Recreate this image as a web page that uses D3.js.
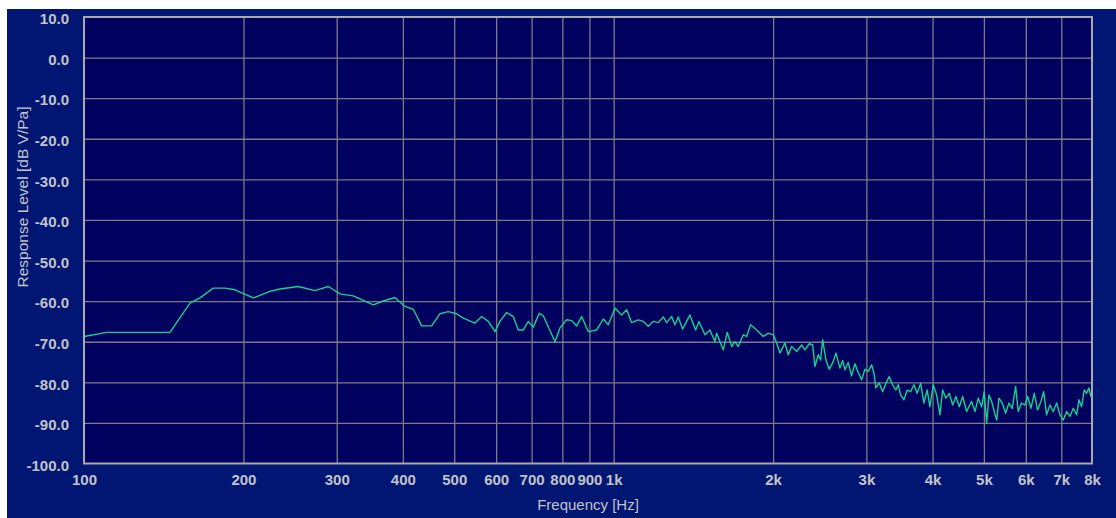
<!DOCTYPE html>
<html>
<head>
<meta charset="utf-8">
<script src="https://cdn.jsdelivr.net/npm/d3@7"></script>
<style>
  html, body { margin: 0; padding: 0; background: #ffffff; }
  svg { display: block; }
</style>
</head>
<body>
<svg id="chart" width="1116" height="518"></svg>
<script>
// Measured response: frequency (Hz) and level (dB V/Pa)
const freqHz = [
  100, 110.4, 145.3, 158.5, 165.6, 175.4, 184.6, 192.8, 208.8, 224.4,
  234.4, 253.8, 272.9, 289.2, 304.3, 322.4, 351.8, 364.8, 386.5, 403.6,
  418.5, 434.0, 453.3, 470.0, 487.3, 505.2, 520.0, 547.2, 563.4, 579.8,
  596.9, 610.0, 628.1, 646.4, 660.6, 675.1, 690.0, 705.1, 723.7, 736.4,
  774.8, 791.7, 815.2, 833.1, 851.4, 870.1, 895.4, 928.8, 955.9, 976.8,
  1005.8, 1035.4, 1058.0, 1081.4, 1112.8, 1137.4, 1162.4, 1188.0, 1214.0, 1240.7,
  1259.0, 1286.6, 1305.2, 1324.0, 1349.7, 1393.0, 1428.1, 1448.7, 1487.2, 1519.7,
  1553.0, 1564.5, 1610.1, 1638.5, 1670.2, 1694.2, 1718.6, 1756.5, 1782.5, 1813.7,
  1862.1, 1916.1, 1958.4, 2001.3, 2031.0, 2060.6, 2105.7, 2136.0, 2167.7, 2215.5,
  2264.0, 2297.0, 2340.3, 2375.0, 2398.8, 2433.8, 2459.0, 2480.6, 2516.3, 2552.5,
  2597.5, 2628.2, 2674.0, 2705.6, 2733.1, 2772.4, 2813.6, 2854.0, 2895.7, 2938.7,
  2981.0, 3024.5, 3069.3, 3099.9, 3127.1, 3172.0, 3219.0, 3265.9, 3313.0, 3362.1,
  3410.6, 3444.9, 3481.3, 3531.0, 3582.7, 3636.0, 3688.5, 3741.6, 3797.5, 3852.4,
  3907.8, 3954.0, 4011.6, 4071.1, 4130.0, 4178.8, 4238.9, 4300.8, 4365.2, 4428.0,
  4492.7, 4559.4, 4638.9, 4671.0, 4740.4, 4809.6, 4879.0, 4951.4, 5007.6, 5060.9,
  5111.3, 5171.6, 5230.3, 5285.9, 5338.5, 5415.3, 5495.4, 5575.8, 5656.0, 5740.1,
  5805.2, 5891.4, 5977.5, 6048.1, 6135.0, 6223.2, 6315.6, 6407.9, 6483.6, 6568.0,
  6663.9, 6760.1, 6860.4, 6960.6, 7061.0, 7165.8, 7269.4, 7374.1, 7484.0, 7558.0,
  7647.5, 7734.3, 7815.0, 7894.0, 7962.0, 8000
];
const levelDb = [
  -68.7, -67.7, -67.7, -60.5, -59.2, -56.8, -56.8, -57.2, -59.2, -57.6,
  -57.0, -56.4, -57.4, -56.4, -58.2, -58.7, -60.9, -60.1, -59.1, -61.3,
  -62.0, -66.1, -66.1, -63.1, -62.6, -63.1, -64.2, -65.4, -63.8, -65.0,
  -67.5, -65.0, -62.8, -63.8, -67.1, -67.1, -65.0, -66.4, -63.0, -63.6,
  -70.0, -66.6, -64.6, -64.8, -66.1, -63.8, -67.5, -67.1, -64.4, -65.8,
  -61.7, -63.4, -62.1, -65.3, -64.6, -65.0, -66.2, -65.0, -65.3, -63.9,
  -65.3, -63.8, -65.8, -63.9, -66.9, -63.4, -67.1, -65.0, -68.3, -67.1,
  -70.0, -67.9, -72.0, -67.7, -71.2, -70.0, -71.2, -68.3, -68.7, -65.8,
  -67.1, -68.7, -67.9, -68.3, -70.3, -72.8, -70.3, -73.2, -71.2, -72.4,
  -70.8, -72.0, -70.5, -70.8, -76.1, -73.2, -74.5, -69.5, -74.5, -76.8,
  -74.9, -72.8, -76.5, -74.6, -76.9, -75.1, -78.4, -75.4, -77.6, -79.4,
  -76.8, -77.3, -75.7, -77.7, -81.4, -80.1, -82.3, -80.2, -78.6, -80.6,
  -81.9, -80.6, -83.1, -84.3, -81.9, -82.3, -80.6, -82.7, -80.2, -85.1,
  -81.9, -86.0, -80.6, -83.1, -88.0, -81.9, -83.9, -82.7, -85.6, -83.5,
  -86.0, -83.5, -87.2, -86.4, -84.7, -87.2, -83.9, -86.0, -82.3, -90.1,
  -83.1, -84.7, -87.2, -89.3, -83.9, -85.1, -87.6, -85.1, -86.4, -81.0,
  -87.2, -85.1, -85.6, -83.5, -86.4, -82.7, -86.8, -84.7, -82.3, -88.0,
  -85.6, -87.2, -85.1, -88.0, -89.3, -87.2, -88.4, -86.4, -88.0, -84.3,
  -86.0, -81.9, -82.7, -81.4, -83.5, -82.5
];

// Axis ticks
const xTickValues = [100, 200, 300, 400, 500, 600, 700, 800, 900, 1000,
                     2000, 3000, 4000, 5000, 6000, 7000, 8000];
const xTickLabels = ["100", "200", "300", "400", "500", "600", "700", "800", "900", "1k",
                     "2k", "3k", "4k", "5k", "6k", "7k", "8k"];
const yTickValues = [10, 0, -10, -20, -30, -40, -50, -60, -70, -80, -90, -100];
const yTickLabels = ["10.0", "0.0", "-10.0", "-20.0", "-30.0", "-40.0", "-50.0",
                     "-60.0", "-70.0", "-80.0", "-90.0", "-100.0"];

const xTitle = "Frequency [Hz]";
const yTitle = "Response Level [dB V/Pa]";

// Layout
const W = 1116, H = 518;
const plot = { left: 84, right: 1092, top: 17, bottom: 463.5 };

const colors = {
  page: "#001672",
  plot: "#00005f",
  grid: "#7c7c88",
  frame: "#a9a9ae",
  text: "#c3c3c9",
  line: "#14d38f"
};

const svg = d3.select("#chart");

const x = d3.scaleLog().domain([100, 8000]).range([plot.left, plot.right]);
const y = d3.scaleLinear().domain([-100, 10]).range([plot.bottom, plot.top]);

// Background panel
svg.append("rect")
  .attr("x", 7).attr("y", 9)
  .attr("width", W - 7).attr("height", H - 9)
  .attr("fill", colors.page);

svg.append("rect")
  .attr("x", plot.left).attr("y", plot.top)
  .attr("width", plot.right - plot.left).attr("height", plot.bottom - plot.top)
  .attr("fill", colors.plot);

// Grid lines via axes with full-length ticks
const gridX = d3.axisBottom(x)
  .tickValues(xTickValues.slice(1, -1))
  .tickSize(-(plot.bottom - plot.top))
  .tickFormat("");
svg.append("g")
  .attr("transform", `translate(0,${plot.bottom})`)
  .call(gridX)
  .call(g => g.select(".domain").remove())
  .call(g => g.selectAll("line").attr("stroke", colors.grid).attr("stroke-width", 1.3));

const gridY = d3.axisLeft(y)
  .tickValues(yTickValues.slice(1, -1))
  .tickSize(-(plot.right - plot.left))
  .tickFormat("");
svg.append("g")
  .attr("transform", `translate(${plot.left},0)`)
  .call(gridY)
  .call(g => g.select(".domain").remove())
  .call(g => g.selectAll("line").attr("stroke", colors.grid).attr("stroke-width", 1.3));

// Response curve
svg.append("clipPath").attr("id", "plot-clip")
  .append("rect")
  .attr("x", plot.left).attr("y", plot.top)
  .attr("width", plot.right - plot.left).attr("height", plot.bottom - plot.top);

const n = Math.min(freqHz.length, levelDb.length);
const points = d3.range(n).map(i => [freqHz[i], levelDb[i]]);

const line = d3.line()
  .x(d => x(d[0]))
  .y(d => y(d[1]));

svg.append("path")
  .datum(points)
  .attr("clip-path", "url(#plot-clip)")
  .attr("fill", "none")
  .attr("stroke", colors.line)
  .attr("stroke-width", 1.4)
  .attr("stroke-linejoin", "round")
  .attr("d", line);

// Plot frame
svg.append("rect")
  .attr("x", plot.left).attr("y", plot.top)
  .attr("width", plot.right - plot.left).attr("height", plot.bottom - plot.top)
  .attr("fill", "none")
  .attr("stroke", colors.frame)
  .attr("stroke-width", 2);

// Tick labels
const xAxis = d3.axisBottom(x)
  .tickValues(xTickValues)
  .tickSize(0)
  .tickPadding(0)
  .tickFormat((d, i) => xTickLabels[i]);
svg.append("g")
  .attr("transform", `translate(0,${plot.bottom})`)
  .call(xAxis)
  .call(g => g.select(".domain").remove())
  .call(g => g.selectAll("text")
    .attr("dy", null)
    .attr("y", 21)
    .attr("fill", colors.text)
    .attr("font-family", "Liberation Sans, Arial, sans-serif")
    .attr("font-size", 15)
    .attr("font-weight", "bold"));

const yAxis = d3.axisLeft(y)
  .tickValues(yTickValues)
  .tickSize(0)
  .tickPadding(0)
  .tickFormat((d, i) => yTickLabels[i]);
svg.append("g")
  .attr("transform", `translate(${plot.left - 15},0)`)
  .call(yAxis)
  .call(g => g.select(".domain").remove())
  .call(g => g.selectAll("text")
    .attr("dy", "0.45em")
    .attr("fill", colors.text)
    .attr("font-family", "Liberation Sans, Arial, sans-serif")
    .attr("font-size", 15)
    .attr("font-weight", "bold"));

// Axis titles
svg.append("text")
  .attr("x", 588).attr("y", 510)
  .attr("text-anchor", "middle")
  .attr("fill", colors.text)
  .attr("font-family", "Liberation Sans, Arial, sans-serif")
  .attr("font-size", 15)
  .text(xTitle);

svg.append("text")
  .attr("transform", "translate(28,197) rotate(-90)")
  .attr("text-anchor", "middle")
  .attr("fill", colors.text)
  .attr("font-family", "Liberation Sans, Arial, sans-serif")
  .attr("font-size", 15.5)
  .text(yTitle);
</script>
</body>
</html>
